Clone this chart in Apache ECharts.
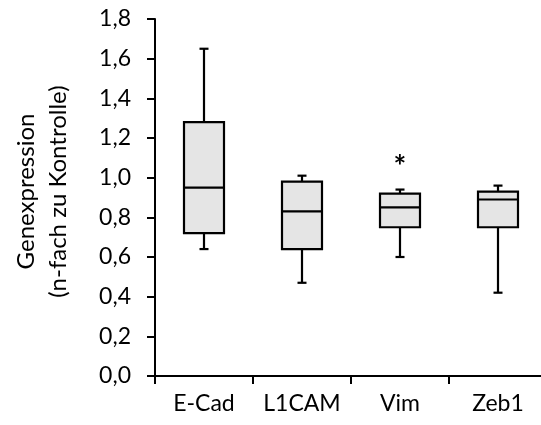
<!DOCTYPE html>
<html>
<head>
<meta charset="utf-8">
<script src="https://cdn.jsdelivr.net/npm/echarts@6/dist/echarts.min.js"></script>
<style>
  html, body { margin: 0; padding: 0; background: #fff; }
  #chart { width: 541px; height: 425px; }
</style>
</head>
<body>
<div id="chart"></div>
<script>
const categories = ['E-Cad', 'L1CAM', 'Vim', 'Zeb1'];
const whiskerLow = [0.64, 0.47, 0.60, 0.42];
const q1 = [0.72, 0.64, 0.75, 0.75];
const median = [0.95, 0.83, 0.85, 0.89];
const q3 = [1.28, 0.98, 0.92, 0.93];
const whiskerHigh = [1.65, 1.01, 0.94, 0.96];
const marks = ['', '', '*', ''];
const markValue = [null, null, 1.07, null];
const yTicks = { min: 0, max: 1.8, interval: 0.2 };

const FONT = 'Lato';
const boxData = categories.map((c, i) => [i, whiskerLow[i], q1[i], median[i], q3[i], whiskerHigh[i], markValue[i]]);

const chart = echarts.init(document.getElementById('chart'));
chart.setOption({
  animation: false,
  grid: { left: 155, right: -6, top: 19, bottom: 49, containLabel: false, outerBoundsMode: 'none' },
  xAxis: {
    type: 'category',
    data: categories,
    boundaryGap: true,
    axisLine: { lineStyle: { color: '#000', width: 2 } },
    axisTick: { show: true, length: 8, interval: 0, lineStyle: { color: '#000', width: 2 }, alignWithLabel: false },
    axisLabel: { color: '#000', fontFamily: FONT, fontSize: 23, margin: 16, interval: 0 },
    splitLine: { show: false }
  },
  yAxis: {
    type: 'value',
    min: yTicks.min, max: yTicks.max, interval: yTicks.interval,
    name: 'Genexpression\n(n-fach zu Kontrolle)',
    nameLocation: 'middle',
    nameRotate: 90,
    nameGap: 81,
    nameTextStyle: { color: '#000', fontFamily: FONT, fontSize: 24, lineHeight: 32, padding: [0, 0, 0, 12] },
    axisLine: { show: true, lineStyle: { color: '#000', width: 2 } },
    axisTick: { show: true, length: 8, lineStyle: { color: '#000', width: 2 } },
    axisLabel: {
      color: '#000', fontFamily: FONT, fontSize: 23, margin: 24,
      formatter: v => v.toFixed(1).replace('.', ',')
    },
    splitLine: { show: false }
  },
  series: [{
    type: 'custom',
    data: boxData,
    encode: { x: 0, y: [1, 2, 3, 4, 5] },
    renderItem: function (params, api) {
      const idx = api.value(0);
      const pLow = api.coord([idx, api.value(1)]);
      const pQ1 = api.coord([idx, api.value(2)]);
      const pMed = api.coord([idx, api.value(3)]);
      const pQ3 = api.coord([idx, api.value(4)]);
      const pHigh = api.coord([idx, api.value(5)]);
      const x = pMed[0];
      const bw = 40, cw = 9;
      const ls = { stroke: '#000', lineWidth: 2.2 };
      const children = [
        { type: 'line', shape: { x1: x, y1: pQ3[1], x2: x, y2: pHigh[1] }, style: ls },
        { type: 'line', shape: { x1: x, y1: pQ1[1], x2: x, y2: pLow[1] }, style: ls },
        { type: 'line', shape: { x1: x - cw / 2, y1: pHigh[1], x2: x + cw / 2, y2: pHigh[1] }, style: ls },
        { type: 'line', shape: { x1: x - cw / 2, y1: pLow[1], x2: x + cw / 2, y2: pLow[1] }, style: ls },
        { type: 'rect', shape: { x: x - bw / 2, y: pQ3[1], width: bw, height: pQ1[1] - pQ3[1] },
          style: { fill: '#e5e5e5', stroke: '#000', lineWidth: 2.2 } },
        { type: 'line', shape: { x1: x - bw / 2, y1: pMed[1], x2: x + bw / 2, y2: pMed[1] }, style: ls }
      ];
      const mk = marks[params.dataIndex];
      const mv = api.value(6);
      if (mk && !isNaN(mv)) {
        const pm = api.coord([idx, mv]);
        children.push({ type: 'text', x: x, y: pm[1] + 4,
          style: { text: mk, fill: '#000', font: 'bold 30px ' + FONT, align: 'center', verticalAlign: 'middle' } });
      }
      return { type: 'group', children: children };
    }
  }]
});
</script>
</body>
</html>
